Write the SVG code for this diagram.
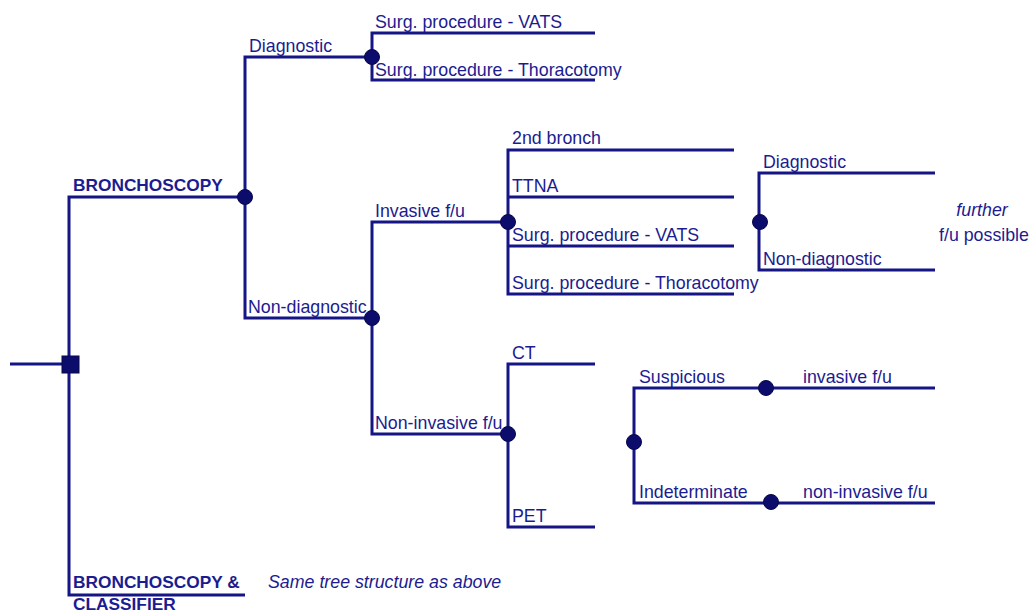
<svg xmlns="http://www.w3.org/2000/svg" width="1031" height="613" viewBox="0 0 1031 613">
<style>
.ln{fill:none;stroke:#151585;stroke-width:3;stroke-linecap:butt;stroke-linejoin:miter}
.ch{fill:#0c0c6c;stroke:#08084a;stroke-width:1}
.dc{fill:#0c0c6c;stroke:#08084a;stroke-width:1}
text{font-family:"Liberation Sans",Arial,sans-serif;font-size:17.8px;fill:#1c1c90}
.b{font-weight:bold;font-size:17.3px}
.i{font-style:italic}
</style>
<rect width="1031" height="613" fill="#fff"/>
<g id="connectors">
<path class="ln" d="M10,364H70"/>
<path class="ln" d="M245,197H69V595H245"/>
<path class="ln" d="M372,57H245V318H372"/>
<path class="ln" d="M595,33H372V80H595"/>
<path class="ln" d="M508,222H372V434H508"/>
<path class="ln" d="M734,150H508V294H734M508,197H734M508,246H734"/>
<path class="ln" d="M935,173H759V270H935"/>
<path class="ln" d="M595,364H508V527H595"/>
<path class="ln" d="M935,388H634V503H935"/>
</g>
<g id="root"><rect class="dc" x="62" y="356" width="17" height="17"/></g>
<g id="bronchoscopy"><text class="b" x="73" y="191">BRONCHOSCOPY</text><circle class="ch" cx="245" cy="197" r="7.5"/></g>
<g id="bronch-classifier"><text class="b" x="73" y="588">BRONCHOSCOPY &amp;</text><text class="b" x="73" y="610">CLASSIFIER</text><text class="i" x="268" y="588">Same tree structure as above</text></g>
<g id="diagnostic"><text x="249" y="52">Diagnostic</text><circle class="ch" cx="372" cy="57" r="7.5"/></g>
<g id="surg-vats-1"><text x="375" y="28">Surg. procedure - VATS</text></g>
<g id="surg-thor-1"><text x="375" y="76">Surg. procedure - Thoracotomy</text></g>
<g id="non-diagnostic"><text x="248" y="313">Non-diagnostic</text><circle class="ch" cx="372" cy="318" r="7.5"/></g>
<g id="invasive"><text x="375" y="217">Invasive f/u</text><circle class="ch" cx="508" cy="222" r="7.5"/></g>
<g id="bronch2"><text x="512" y="144">2nd bronch</text></g>
<g id="ttna"><text x="512" y="192">TTNA</text></g>
<g id="surg-vats-2"><text x="512" y="241">Surg. procedure - VATS</text></g>
<g id="surg-thor-2"><text x="512" y="289">Surg. procedure - Thoracotomy</text></g>
<g id="outcome"><circle class="ch" cx="760" cy="222" r="7.5"/><text x="763" y="168">Diagnostic</text><text x="763" y="265">Non-diagnostic</text><text class="i" x="982" y="216" text-anchor="middle">further</text><text x="984" y="241" text-anchor="middle">f/u possible</text></g>
<g id="non-invasive"><text x="375" y="429">Non-invasive f/u</text><circle class="ch" cx="508" cy="434" r="7.5"/></g>
<g id="ct"><text x="512" y="359">CT</text></g>
<g id="pet"><text x="512" y="522">PET</text></g>
<g id="imaging"><circle class="ch" cx="634" cy="442" r="7.5"/></g>
<g id="suspicious"><text x="639" y="383">Suspicious</text><circle class="ch" cx="766" cy="388" r="7.5"/><text x="803" y="383">invasive f/u</text></g>
<g id="indeterminate"><text x="639" y="498">Indeterminate</text><circle class="ch" cx="771" cy="502" r="7.5"/><text x="803" y="498">non-invasive f/u</text></g>
</svg>
